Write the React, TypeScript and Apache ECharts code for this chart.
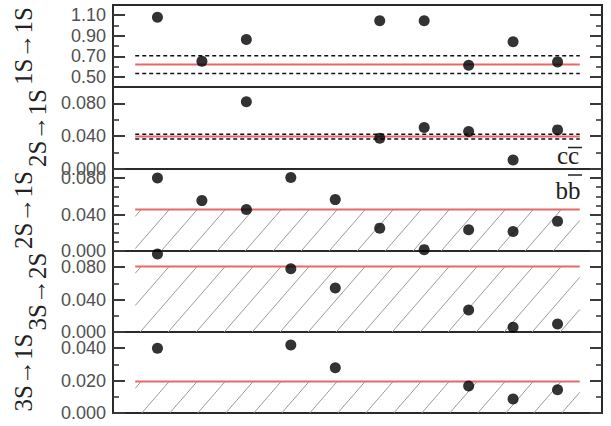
import React, { useEffect, useRef } from "react";
import * as echarts from "echarts";

// x positions of the ten measurements
const columns = [1, 2, 3, 4, 5, 6, 7, 8, 9, 10];

// panel titles (transitions)
const panelTitles = ["1S→1S", "2S→1S", "2S→1S", "3S→2S", "3S→1S"];

// measured values per panel (null = no measurement)
const values1S1S = [1.08, 0.652, 0.864, null, null, 1.046, 1.046, 0.613, 0.841, 0.645];
const values2S1Scc = [null, null, 0.082, null, null, 0.0376, 0.0505, 0.0456, 0.011, 0.0477];
const values2S1Sbb = [0.08, 0.0553, 0.0455, 0.0807, 0.0564, 0.0251, 0.0015, 0.0233, 0.0215, 0.0327];
const values3S2S = [0.0963, null, null, 0.078, 0.0544, null, null, 0.0272, 0.006, 0.01];
const values3S1S = [0.04, null, null, 0.042, 0.028, null, null, 0.0166, 0.0086, 0.0144];

// reference (red) levels and dashed band limits
const referenceLevels = [0.62, 0.0395, 0.0455, 0.081, 0.0195];
const bandHigh = [0.704, 0.0425];
const bandLow = [0.531, 0.0365];
const hatchedPanels = [false, false, true, true, true];

// axes
const axisMin = [0.4, 0, 0, 0, 0];
const axisMax = [1.2, 0.1, 0.09, 0.1, 0.05];
const majorTicks = [
  [0.5, 0.7, 0.9, 1.1],
  [0, 0.04, 0.08],
  [0, 0.04, 0.08],
  [0, 0.04, 0.08],
  [0, 0.02, 0.04],
];
const minorTicks = [
  [0.6, 0.8, 1.0],
  [0.02, 0.06],
  [0.01, 0.02, 0.03, 0.05, 0.06, 0.07],
  [0.02, 0.06],
  [0.01, 0.03],
];
const labelDecimals = [2, 3, 3, 3, 3];
const lineSpan = [0.5, 10.5];
const xRange = [0, 11];

const panelValues = [values1S1S, values2S1Scc, values2S1Sbb, values3S2S, values3S1S];

// layout
const gridTops = [5, 87, 169, 251, 332];
const gridHeights = [82, 82, 82, 81, 81];
const nameGaps = [77, 59, 77, 59, 77];
const hatchSpacing = 28;
const hatchSlope = 1.15;

export default function App() {
  const ref = useRef<HTMLDivElement>(null);

  useEffect(() => {
    if (!ref.current) return;
    const chart = echarts.init(ref.current, undefined, { renderer: "svg" });

    const grids: any[] = [];
    const xAxes: any[] = [];
    const yAxes: any[] = [];
    const series: any[] = [];

    const tickColor = "#3a3a3a";

    panelValues.forEach((vals, i) => {
      grids.push({
        left: 113,
        right: 9,
        top: gridTops[i],
        height: gridHeights[i],
        show: true,
        borderColor: "#2a2a2a",
        borderWidth: 2,
        backgroundColor: "transparent",
      });
      xAxes.push({
        type: "value",
        gridIndex: i,
        min: xRange[0],
        max: xRange[1],
        show: false,
      });
      const base = {
        type: "value",
        gridIndex: i,
        min: axisMin[i],
        max: axisMax[i],
        splitLine: { show: false },
        axisLine: { show: false },
      };
      // left major (labels + name)
      yAxes.push({
        ...base,
        position: "left",
        name: panelTitles[i],
        nameLocation: "middle",
        nameGap: nameGaps[i],
        nameTextStyle: { fontFamily: "Liberation Serif", fontSize: 25, color: "#222" },
        axisLabel: {
          customValues: majorTicks[i],
          formatter: (v: number) => v.toFixed(labelDecimals[i]),
          fontFamily: "Liberation Sans",
          fontSize: 18,
          color: "#505050",
          margin: 7,
        },
        axisTick: {
          customValues: majorTicks[i],
          inside: true,
          length: 12,
          lineStyle: { color: tickColor, width: 2 },
        },
      });
      // left minor
      yAxes.push({
        ...base,
        position: "left",
        axisLabel: { show: false },
        axisTick: {
          customValues: minorTicks[i],
          inside: true,
          length: 6,
          lineStyle: { color: tickColor, width: 1.6 },
        },
      });
      // right major
      yAxes.push({
        ...base,
        position: "right",
        axisLabel: { show: false },
        axisTick: {
          customValues: majorTicks[i],
          inside: true,
          length: 12,
          lineStyle: { color: tickColor, width: 2 },
        },
      });
      // right minor
      yAxes.push({
        ...base,
        position: "right",
        axisLabel: { show: false },
        axisTick: {
          customValues: minorTicks[i],
          inside: true,
          length: 6,
          lineStyle: { color: tickColor, width: 1.6 },
        },
      });

      const yIdx = i * 4;

      if (hatchedPanels[i]) {
        series.push({
          type: "custom",
          xAxisIndex: i,
          yAxisIndex: yIdx,
          z: 1,
          silent: true,
          data: [[lineSpan[0], lineSpan[1], axisMin[i], referenceLevels[i]]],
          encode: { x: [0, 1], y: [2, 3] },
          renderItem: (params: any, api: any) => {
            const tl = api.coord([api.value(0), api.value(3)]);
            const br = api.coord([api.value(1), api.value(2)]);
            const L = tl[0], T = tl[1], R = br[0], B = br[1];
            const h = B - T;
            const run = h / hatchSlope;
            const children: any[] = [];
            for (let xb = L - run + 6; xb < R; xb += hatchSpacing) {
              const t0 = Math.max(0, (L - xb) / run);
              const t1 = Math.min(1, (R - xb) / run);
              if (t1 <= t0) continue;
              children.push({
                type: "line",
                shape: { x1: xb + t0 * run, y1: B - t0 * h, x2: xb + t1 * run, y2: B - t1 * h },
                style: { stroke: "#9a9a9a", lineWidth: 1 },
              });
            }
            return { type: "group", children };
          },
        });
      }

      if (i < bandHigh.length) {
        [bandHigh[i], bandLow[i]].forEach((lv) => {
          series.push({
            type: "line",
            xAxisIndex: i,
            yAxisIndex: yIdx,
            z: 2,
            symbol: "none",
            silent: true,
            data: [[lineSpan[0], lv], [lineSpan[1], lv]],
            lineStyle: { color: "#111", width: 1.5, type: [4, 3] },
          });
        });
      }

      series.push({
        type: "line",
        xAxisIndex: i,
        yAxisIndex: yIdx,
        z: 3,
        symbol: "none",
        silent: true,
        data: [[lineSpan[0], referenceLevels[i]], [lineSpan[1], referenceLevels[i]]],
        lineStyle: { color: "#e8686a", width: 2 },
      });

      series.push({
        type: "scatter",
        xAxisIndex: i,
        yAxisIndex: yIdx,
        z: 5,
        symbolSize: 11,
        itemStyle: { color: "#000" },
        data: columns
          .map((c, k) => [c, vals[k]])
          .filter((d) => d[1] !== null),
      });
    });

    chart.setOption({
      animation: false,
      backgroundColor: "#fff",
      grid: grids,
      xAxis: xAxes,
      yAxis: yAxes,
      series,
      graphic: [
        {
          type: "text",
          x: 568,
          y: 155,
          style: {
            text: "cc",
            font: "25px 'Liberation Serif'",
            fill: "#222",
            textAlign: "center",
            textVerticalAlign: "middle",
          },
        },
        {
          type: "line",
          shape: { x1: 568, y1: 147.5, x2: 582, y2: 147.5 },
          style: { stroke: "#222", lineWidth: 1.5 },
        },
        {
          type: "text",
          x: 568,
          y: 190,
          style: {
            text: "bb",
            font: "25px 'Liberation Serif'",
            fill: "#222",
            textAlign: "center",
            textVerticalAlign: "middle",
          },
        },
        {
          type: "line",
          shape: { x1: 568, y1: 175, x2: 582, y2: 175 },
          style: { stroke: "#222", lineWidth: 1.5 },
        },
      ],
    });

    return () => chart.dispose();
  }, []);

  return (
    <div
      ref={ref}
      style={{ position: "fixed", left: 0, top: 0, width: 611, height: 426, background: "#fff" }}
    />
  );
}
